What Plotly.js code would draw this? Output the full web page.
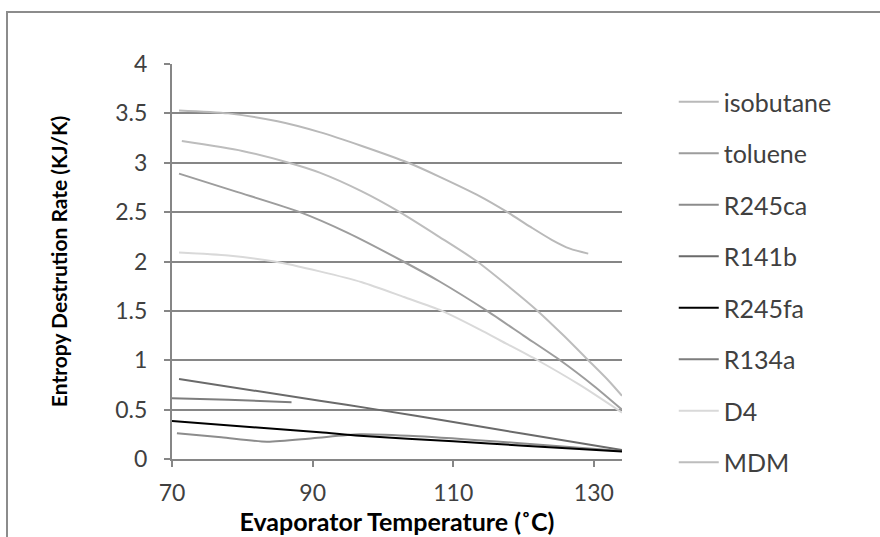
<!DOCTYPE html>
<html>
<head>
<meta charset="utf-8">
<script src="https://cdn.plot.ly/plotly-3.0.1.min.js"></script>
<style>
  html, body { margin: 0; padding: 0; background: #fff; }
  #wrap { position: relative; width: 880px; height: 537px; overflow: hidden; }
  #chart { width: 880px; height: 537px; }
  #frame { position: absolute; left: 6px; top: 11px; width: 900px; height: 600px;
           border-top: 2px solid #8c8c8c; border-left: 2px solid #8c8c8c; pointer-events: none; }
</style>
</head>
<body>
<div id="wrap"><div id="chart"></div><div id="frame"></div></div>
<script>
// Series names (legend order)
const seriesNames = ["isobutane", "toluene", "R245ca", "R141b", "R245fa", "R134a", "D4", "MDM"];

// Values (x = evaporator temperature °C, y = entropy destruction rate KJ/K)
const isobutaneX = [71, 78, 85, 91, 97, 103.6, 108, 113.8, 117.7, 121, 124, 126.6, 129.2];
const isobutaneY = [3.53, 3.50, 3.42, 3.31, 3.17, 3.00, 2.86, 2.66, 2.50, 2.35, 2.22, 2.13, 2.08];

const tolueneX = [71, 79, 88.2, 95, 102.9, 108, 114.8, 120, 125.2, 130, 134];
const tolueneY = [2.89, 2.71, 2.50, 2.29, 2.00, 1.80, 1.50, 1.25, 1.00, 0.74, 0.50];

const r245caX = [70.7, 77, 83.5, 90, 96.7, 105, 119.5, 134];
const r245caY = [0.26, 0.22, 0.175, 0.21, 0.25, 0.23, 0.16, 0.08];

const r141bX = [71, 91, 99.2, 110, 120, 134];
const r141bY = [0.81, 0.59, 0.50, 0.375, 0.255, 0.09];

const r245faX = [70, 91, 96.7, 110, 120, 134];
const r245faY = [0.385, 0.27, 0.235, 0.18, 0.135, 0.075];

const r134aX = [70, 78, 87];
const r134aY = [0.615, 0.60, 0.575];

const d4X = [71, 78, 84.6, 91, 97, 103, 108.4, 113.8, 116.7, 122, 128, 134];
const d4Y = [2.09, 2.06, 2.00, 1.90, 1.79, 1.64, 1.50, 1.31, 1.20, 1.00, 0.75, 0.47];

const mdmX = [71.4, 80, 86.6, 91, 97, 102.4, 108, 113.4, 118, 122, 125.7, 129.2, 132, 134];
const mdmY = [3.22, 3.12, 3.00, 2.90, 2.71, 2.50, 2.25, 2.00, 1.74, 1.50, 1.25, 1.00, 0.80, 0.64];

const xTickVals = [70, 90, 110, 130];
const yTickVals = [0, 0.5, 1, 1.5, 2, 2.5, 3, 3.5, 4];
const yTickText = ["0", "0.5", "1", "1.5", "2", "2.5", "3", "3.5", "4"];

const xs = [isobutaneX, tolueneX, r245caX, r141bX, r245faX, r134aX, d4X, mdmX];
const ys = [isobutaneY, tolueneY, r245caY, r141bY, r245faY, r134aY, d4Y, mdmY];
const colors = ["#b9b9b9", "#9d9d9d", "#8c8c8c", "#6a6a6a", "#000000", "#7d7d7d", "#d9d9d9", "#bdbdbd"];

const FONT = "Lato, 'Open Sans', sans-serif";

const traces = seriesNames.map((name, i) => ({
  type: "scatter",
  mode: "lines",
  name: name,
  x: xs[i],
  y: ys[i],
  line: { color: colors[i], width: 2, shape: "spline", smoothing: 0.7 },
  legendgroup: "g" + i,
  hoverinfo: "x+y+name"
}));

const layout = {
  width: 880,
  height: 537,
  margin: { l: 172, r: 258, t: 64, b: 78 },
  paper_bgcolor: "#ffffff",
  plot_bgcolor: "#ffffff",
  font: { family: FONT, size: 23, color: "#404040" },
  showlegend: true,
  legend: {
    x: 1.115, xanchor: "left",
    y: 0.962, yanchor: "top",
    font: { family: FONT, size: 25, color: "#404040" },
    tracegroupgap: 16,
    bgcolor: "rgba(0,0,0,0)",
    itemwidth: 40,
    maxheight: 520
  },
  xaxis: {
    range: [70, 134],
    tickvals: xTickVals,
    ticktext: xTickVals.map(String),
    showgrid: false,
    zeroline: false,
    showline: true,
    linecolor: "#868686",
    linewidth: 2,
    ticks: "outside",
    ticklen: 6,
    tickwidth: 2,
    tickcolor: "#868686",
    ticklabelstandoff: 6,
    tickfont: { family: FONT, size: 23, color: "#404040" },
    title: { text: "Evaporator Temperature (˚C)", font: { family: FONT, size: 25, color: "#000000", weight: "bold" }, standoff: 6 }
  },
  yaxis: {
    range: [0, 4],
    tickvals: yTickVals,
    ticktext: yTickText,
    showgrid: true,
    gridcolor: "#868686",
    gridwidth: 2,
    zeroline: false,
    showline: true,
    linecolor: "#868686",
    linewidth: 2,
    ticks: "outside",
    ticklen: 6,
    tickwidth: 2,
    tickcolor: "#868686",
    ticklabelstandoff: 12,
    tickfont: { family: FONT, size: 23, color: "#404040" },
    title: { text: "Entropy Destrution Rate (KJ/K)", font: { family: FONT, size: 21, color: "#000000", weight: "bold" }, standoff: 42 }
  }
};

Plotly.newPlot("chart", traces, layout, { staticPlot: true, displayModeBar: false });
</script>
</body>
</html>
